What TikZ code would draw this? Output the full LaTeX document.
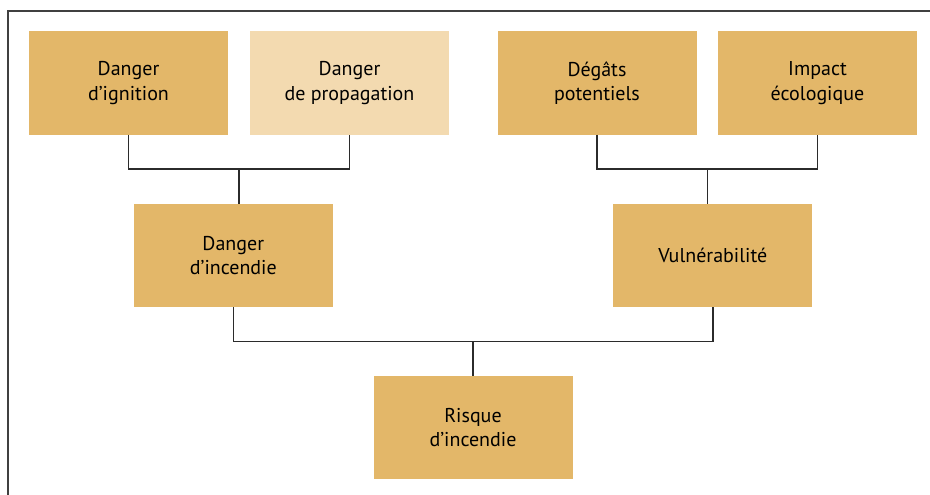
\documentclass[tikz,border=0pt]{standalone}
\usepackage{fontspec}
\setmainfont{PT Sans}
\definecolor{boxfill}{HTML}{E3B769}
\definecolor{boxlight}{HTML}{F3DAB0}
\definecolor{linegray}{HTML}{2B2B2B}
\tikzset{
  riskbox/.style={fill=boxfill, minimum width=199pt, minimum height=103pt, inner sep=0pt,
    align=center, font=\fontsize{20}{24.5}\selectfont},
  link/.style={draw=linegray, line width=1.4pt}
}
\begin{document}
\begin{tikzpicture}[x=1pt,y=-1pt]
  \useasboundingbox (0,0) rectangle (930,495);
  \def\top{83}
  \def\mid{255.3}
  \draw[draw=linegray!90, line width=1.3pt] (930,11) -- (8,11) -- (8,495);

  \node[riskbox] (ign) at (128.5,\top) {Danger\\d'ignition};
  \node[riskbox, fill=boxlight] (prop) at (349.5,\top) {Danger\\de propagation};
  \node[riskbox] (deg) at (597,\top) {Dégâts\\potentiels};
  \node[riskbox] (imp) at (817.5,\top) {Impact\\écologique};
  \node[riskbox] (dinc) at (233.3,\mid) {Danger\\d'incendie};
  \node[riskbox] (vul) at (712.8,\mid) {Vulnérabilité};
  \node[riskbox] (risq) at (473,427.7) {Risque\\d'incendie};

  % brackets
  \coordinate (jl) at (239,169);
  \coordinate (jr) at (707.3,169);
  \coordinate (jb) at (473,341.5);
  \draw[link] (ign.south) |- (jl) -| (prop.south);
  \draw[link] (jl) -- (jl |- dinc.north);
  \draw[link] (deg.south) |- (jr) -| (imp.south);
  \draw[link] (jr) -- (jr |- vul.north);
  \draw[link] (dinc.south) |- (jb) -| (vul.south);
  \draw[link] (jb) -- (risq.north);
\end{tikzpicture}
\end{document}
